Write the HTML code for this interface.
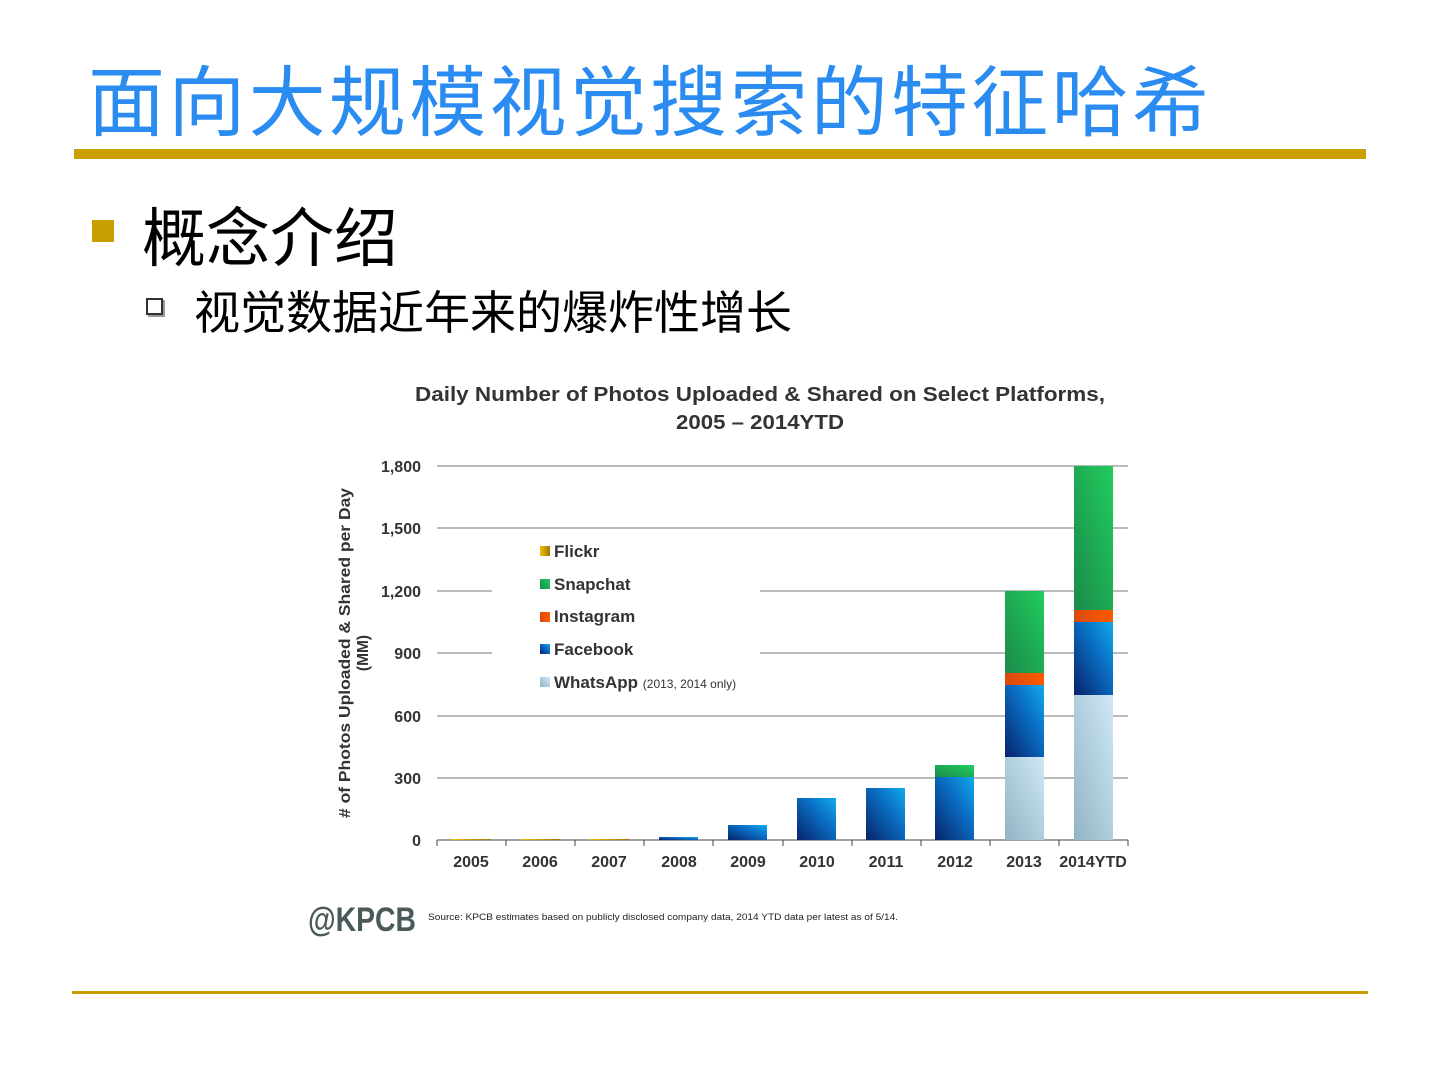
<!DOCTYPE html>
<html><head><meta charset="utf-8"><style>
body{margin:0;width:1440px;height:1080px;background:#fff;overflow:hidden;position:relative;font-family:"Liberation Sans","Noto Sans CJK SC",sans-serif}
.t{position:absolute;left:88px;top:42px;font-size:77px;color:#2a8cf0;white-space:nowrap;letter-spacing:3.3px;font-family:"Liberation Sans","Noto Sans CJK SC",sans-serif}
</style></head><body>
<div class="t">面向大规模视觉搜索的特征哈希</div>
<div style="position:absolute;left:74px;top:149px;width:1292px;height:10px;background:#c99e00"></div>
<div style="position:absolute;left:92px;top:220px;width:22px;height:22px;background:#c99e00"></div>
<div style="position:absolute;left:142px;top:188px;font-size:64px;color:#000">概念介绍</div>
<div style="position:absolute;left:146px;top:298px;width:13px;height:13px;border:2px solid #333;box-shadow:2px 2px 0 #999"></div>
<div style="position:absolute;left:194px;top:277px;font-size:46px;color:#000">视觉数据近年来的爆炸性增长</div>
<div style="position:absolute;left:72px;top:991px;width:1296px;height:3px;background:#c99e00"></div>
<svg width="1440" height="1080" style="position:absolute;left:0;top:0" font-family="Liberation Sans, sans-serif">
<defs>
<linearGradient id="fb" x1="0" y1="1" x2="1" y2="0"><stop offset="0" stop-color="#08226a"/><stop offset="0.6" stop-color="#0a6fc4"/><stop offset="1" stop-color="#10aaee"/></linearGradient>
<linearGradient id="sc" x1="0" y1="1" x2="1" y2="0"><stop offset="0" stop-color="#1a8a4a"/><stop offset="1" stop-color="#22cc5e"/></linearGradient>
<linearGradient id="wa" x1="0" y1="1" x2="1" y2="0"><stop offset="0" stop-color="#92b4c4"/><stop offset="1" stop-color="#cfe8f6"/></linearGradient>
<linearGradient id="ig" x1="0" y1="0" x2="1" y2="0"><stop offset="0" stop-color="#d84a10"/><stop offset="1" stop-color="#ff5a00"/></linearGradient>
<linearGradient id="fl" x1="0" y1="0" x2="1" y2="0"><stop offset="0" stop-color="#f0c000"/><stop offset="1" stop-color="#a07800"/></linearGradient>
</defs>
<text x="760" y="401" text-anchor="middle" font-size="20" font-weight="bold" fill="#333" textLength="690" lengthAdjust="spacingAndGlyphs">Daily Number of Photos Uploaded &amp; Shared on Select Platforms,</text>
<text x="760" y="429" text-anchor="middle" font-size="20" font-weight="bold" fill="#333" textLength="168" lengthAdjust="spacingAndGlyphs">2005 – 2014YTD</text>
<g stroke="#777" stroke-width="1">
<line x1="437" y1="466" x2="1128" y2="466"/><line x1="437" y1="528" x2="1128" y2="528"/>
<line x1="437" y1="591" x2="492" y2="591"/><line x1="760" y1="591" x2="1128" y2="591"/>
<line x1="437" y1="653" x2="492" y2="653"/><line x1="760" y1="653" x2="1128" y2="653"/>
<line x1="437" y1="716" x2="1128" y2="716"/><line x1="437" y1="778" x2="1128" y2="778"/>
<line x1="437" y1="840" x2="1128" y2="840" stroke="#444"/>
</g>
<g stroke="#444"><line x1="437" y1="840" x2="437" y2="846"/><line x1="506" y1="840" x2="506" y2="846"/><line x1="575" y1="840" x2="575" y2="846"/><line x1="644" y1="840" x2="644" y2="846"/><line x1="713" y1="840" x2="713" y2="846"/><line x1="783" y1="840" x2="783" y2="846"/><line x1="852" y1="840" x2="852" y2="846"/><line x1="921" y1="840" x2="921" y2="846"/><line x1="990" y1="840" x2="990" y2="846"/><line x1="1059" y1="840" x2="1059" y2="846"/><line x1="1128" y1="840" x2="1128" y2="846"/></g>
<g font-size="16" font-weight="bold" fill="#333" text-anchor="end">
<text x="421" y="472">1,800</text><text x="421" y="534">1,500</text><text x="421" y="597">1,200</text><text x="421" y="659">900</text><text x="421" y="722">600</text><text x="421" y="784">300</text><text x="421" y="846">0</text></g>
<g font-size="16" font-weight="bold" fill="#333" text-anchor="middle">
<text x="471" y="867">2005</text><text x="540" y="867">2006</text><text x="609" y="867">2007</text><text x="679" y="867">2008</text><text x="748" y="867">2009</text><text x="817" y="867">2010</text><text x="886" y="867">2011</text><text x="955" y="867">2012</text><text x="1024" y="867">2013</text><text x="1093" y="867">2014YTD</text></g>
<text transform="translate(350,653) rotate(-90)" text-anchor="middle" font-size="15.5" font-weight="bold" fill="#333">
<tspan x="0" y="0" textLength="330" lengthAdjust="spacingAndGlyphs"># of Photos Uploaded &amp; Shared per Day</tspan><tspan x="0" y="18">(MM)</tspan></text>
<rect x="452" y="839" width="39" height="1" fill="url(#fl)"/>
<rect x="521" y="839" width="39" height="1" fill="url(#fl)"/>
<rect x="590" y="839" width="39" height="1" fill="url(#fl)"/>
<rect x="659" y="837" width="39" height="3" fill="url(#fb)"/>
<rect x="728" y="825" width="39" height="15" fill="url(#fb)"/>
<rect x="797" y="798" width="39" height="42" fill="url(#fb)"/>
<rect x="866" y="788" width="39" height="52" fill="url(#fb)"/>
<rect x="935" y="777" width="39" height="63" fill="url(#fb)"/>
<rect x="935" y="765" width="39" height="12" fill="url(#sc)"/>
<rect x="1005" y="757" width="39" height="83" fill="url(#wa)"/>
<rect x="1005" y="685" width="39" height="72" fill="url(#fb)"/>
<rect x="1005" y="673" width="39" height="12" fill="url(#ig)"/>
<rect x="1005" y="591" width="39" height="82" fill="url(#sc)"/>
<rect x="1074" y="695" width="39" height="145" fill="url(#wa)"/>
<rect x="1074" y="622" width="39" height="73" fill="url(#fb)"/>
<rect x="1074" y="610" width="39" height="12" fill="url(#ig)"/>
<rect x="1074" y="466" width="39" height="144" fill="url(#sc)"/>
<g font-size="17" font-weight="bold" fill="#333">
<rect x="540" y="546" width="10" height="10" fill="url(#fl)"/><text x="554" y="557">Flickr</text>
<rect x="540" y="579" width="10" height="10" fill="url(#sc)"/><text x="554" y="590">Snapchat</text>
<rect x="540" y="612" width="10" height="10" fill="url(#ig)"/><text x="554" y="622">Instagram</text>
<rect x="540" y="644" width="10" height="10" fill="url(#fb)"/><text x="554" y="655">Facebook</text>
<rect x="540" y="677" width="10" height="10" fill="url(#wa)"/><text x="554" y="688">WhatsApp <tspan font-size="12" font-weight="normal">(2013, 2014 only)</tspan></text>
</g>
<text x="308" y="931" font-size="34" font-weight="bold" fill="#4a5a5a" textLength="108" lengthAdjust="spacingAndGlyphs">@KPCB</text>
<text x="428" y="920" font-size="9.5" fill="#222" textLength="470" lengthAdjust="spacingAndGlyphs">Source: KPCB estimates based on publicly disclosed company data, 2014 YTD data per latest as of 5/14.</text>
</svg>
</body></html>
